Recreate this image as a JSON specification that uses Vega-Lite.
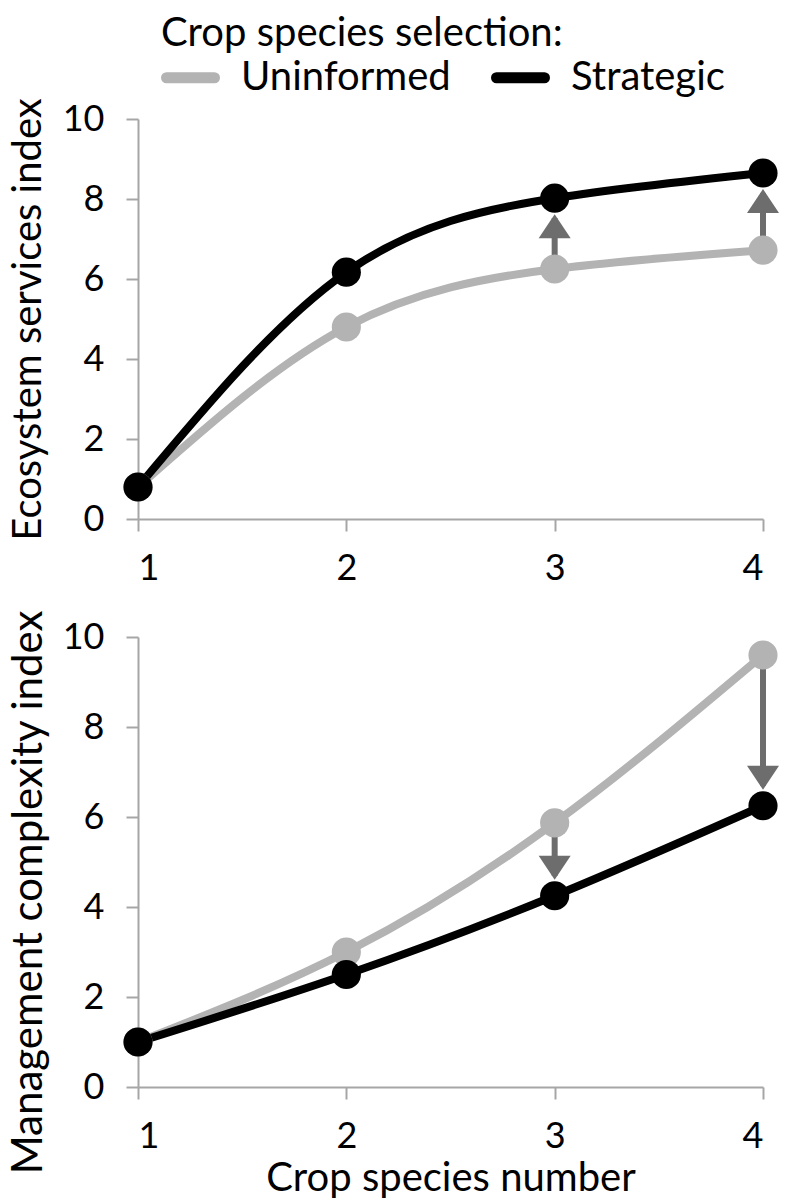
{
  "$schema": "https://vega.github.io/schema/vega-lite/v6.json",
  "background": "white",
  "padding": {"left": 7, "top": 14, "right": 5, "bottom": 5},
  "config": {
    "font": "Lato",
    "view": {"stroke": null},
    "axis": {
      "grid": false,
      "domainColor": "#a6a6a6",
      "domainWidth": 2,
      "tickColor": "#a6a6a6",
      "tickWidth": 2,
      "tickSize": 12,
      "labelFontSize": 36,
      "labelColor": "#000000",
      "titleFontSize": 40,
      "titleFontWeight": "normal",
      "titleColor": "#000000"
    }
  },
  "bounds": "flush",
  "spacing": 118,
  "datasets": {
    "es": [
      {"n": 1, "selection": "Uninformed", "value": 0.8},
      {"n": 2, "selection": "Uninformed", "value": 4.8},
      {"n": 3, "selection": "Uninformed", "value": 6.25},
      {"n": 4, "selection": "Uninformed", "value": 6.72},
      {"n": 1, "selection": "Strategic", "value": 0.8},
      {"n": 2, "selection": "Strategic", "value": 6.17},
      {"n": 3, "selection": "Strategic", "value": 8.02},
      {"n": 4, "selection": "Strategic", "value": 8.65}
    ],
    "esArrows": [
      {"n": 3, "from": 6.25, "to": 8.02},
      {"n": 4, "from": 6.72, "to": 8.65}
    ],
    "mc": [
      {"n": 1, "selection": "Uninformed", "value": 1.0},
      {"n": 2, "selection": "Uninformed", "value": 3.0},
      {"n": 3, "selection": "Uninformed", "value": 5.87},
      {"n": 4, "selection": "Uninformed", "value": 9.6},
      {"n": 1, "selection": "Strategic", "value": 1.0},
      {"n": 2, "selection": "Strategic", "value": 2.5},
      {"n": 3, "selection": "Strategic", "value": 4.25},
      {"n": 4, "selection": "Strategic", "value": 6.25}
    ],
    "mcArrows": [
      {"n": 3, "from": 5.87, "to": 4.25},
      {"n": 4, "from": 9.6, "to": 6.25}
    ]
  },
  "vconcat": [
    {
      "width": 625,
      "height": 400,
      "encoding": {
        "x": {
          "field": "n", "type": "quantitative",
          "scale": {"domain": [1, 4], "nice": false, "zero": false},
          "axis": {"values": [1, 2, 3, 4], "format": "d", "title": null, "labelPadding": 20}
        }
      },
      "layer": [
        {
          "data": {"name": "es"},
          "mark": {"type": "line", "interpolate": "natural", "strokeWidth": 8},
          "encoding": {
            "y": {
              "field": "value", "type": "quantitative",
              "scale": {"domain": [0, 10], "nice": false},
              "axis": {"values": [0, 2, 4, 6, 8, 10], "title": "Ecosystem services index", "labelPadding": 22, "titlePadding": 14}
            },
            "color": {
              "field": "selection", "type": "nominal",
              "scale": {"domain": ["Uninformed", "Strategic"], "range": ["#b3b3b3", "#000000"]},
              "legend": {
                "orient": "none", "legendX": 23, "legendY": -105,
                "direction": "horizontal",
                "title": "Crop species selection:",
                "titleFontSize": 40, "titleFontWeight": "normal", "titleColor": "#000000", "titleLimit": 1000,
                "labelFontSize": 40, "labelColor": "#000000", "labelLimit": 1000,
                "symbolType": "stroke", "symbolSize": 2300, "symbolStrokeWidth": 11,
                "columnPadding": 23, "labelOffset": 21, "titlePadding": -6,
                "encode": {"symbols": {"update": {"strokeCap": {"value": "round"}}}}
              }
            }
          }
        },
        {
          "data": {"name": "esArrows"},
          "mark": {"type": "rule", "strokeWidth": 6, "color": "#6d6d6d", "y2Offset": 20},
          "encoding": {
            "y": {"field": "from", "type": "quantitative"},
            "y2": {"field": "to"}
          }
        },
        {
          "data": {"name": "es"},
          "mark": {"type": "point", "filled": true, "size": 850, "opacity": 1},
          "encoding": {
            "y": {"field": "value", "type": "quantitative"},
            "color": {"field": "selection", "type": "nominal", "legend": null}
          }
        },
        {
          "data": {"name": "esArrows"},
          "mark": {"type": "point", "filled": true, "opacity": 1, "shape": "M0,0L-1,1.5L1,1.5Z", "size": 1024, "color": "#6d6d6d", "yOffset": 16},
          "encoding": {
            "y": {"field": "to", "type": "quantitative"}
          }
        }
      ]
    },
    {
      "width": 625,
      "height": 450,
      "encoding": {
        "x": {
          "field": "n", "type": "quantitative",
          "scale": {"domain": [1, 4], "nice": false, "zero": false},
          "axis": {"values": [1, 2, 3, 4], "format": "d", "title": "Crop species number", "labelPadding": 20, "titlePadding": 4}
        }
      },
      "layer": [
        {
          "data": {"name": "mc"},
          "mark": {"type": "line", "interpolate": "natural", "strokeWidth": 8},
          "encoding": {
            "y": {
              "field": "value", "type": "quantitative",
              "scale": {"domain": [0, 10], "nice": false},
              "axis": {"values": [0, 2, 4, 6, 8, 10], "title": "Management complexity index", "titleFontSize": 42, "labelPadding": 22, "titlePadding": 12, "titleY": 255}
            },
            "color": {"field": "selection", "type": "nominal", "legend": null}
          }
        },
        {
          "data": {"name": "mcArrows"},
          "mark": {"type": "rule", "strokeWidth": 6, "color": "#6d6d6d", "y2Offset": -20},
          "encoding": {
            "y": {"field": "from", "type": "quantitative"},
            "y2": {"field": "to"}
          }
        },
        {
          "data": {"name": "mc"},
          "mark": {"type": "point", "filled": true, "size": 850, "opacity": 1},
          "encoding": {
            "y": {"field": "value", "type": "quantitative"},
            "color": {"field": "selection", "type": "nominal", "legend": null}
          }
        },
        {
          "data": {"name": "mcArrows"},
          "mark": {"type": "point", "filled": true, "opacity": 1, "shape": "M0,0L-1,-1.5L1,-1.5Z", "size": 1024, "color": "#6d6d6d", "yOffset": -16},
          "encoding": {
            "y": {"field": "to", "type": "quantitative"}
          }
        }
      ]
    }
  ]
}
